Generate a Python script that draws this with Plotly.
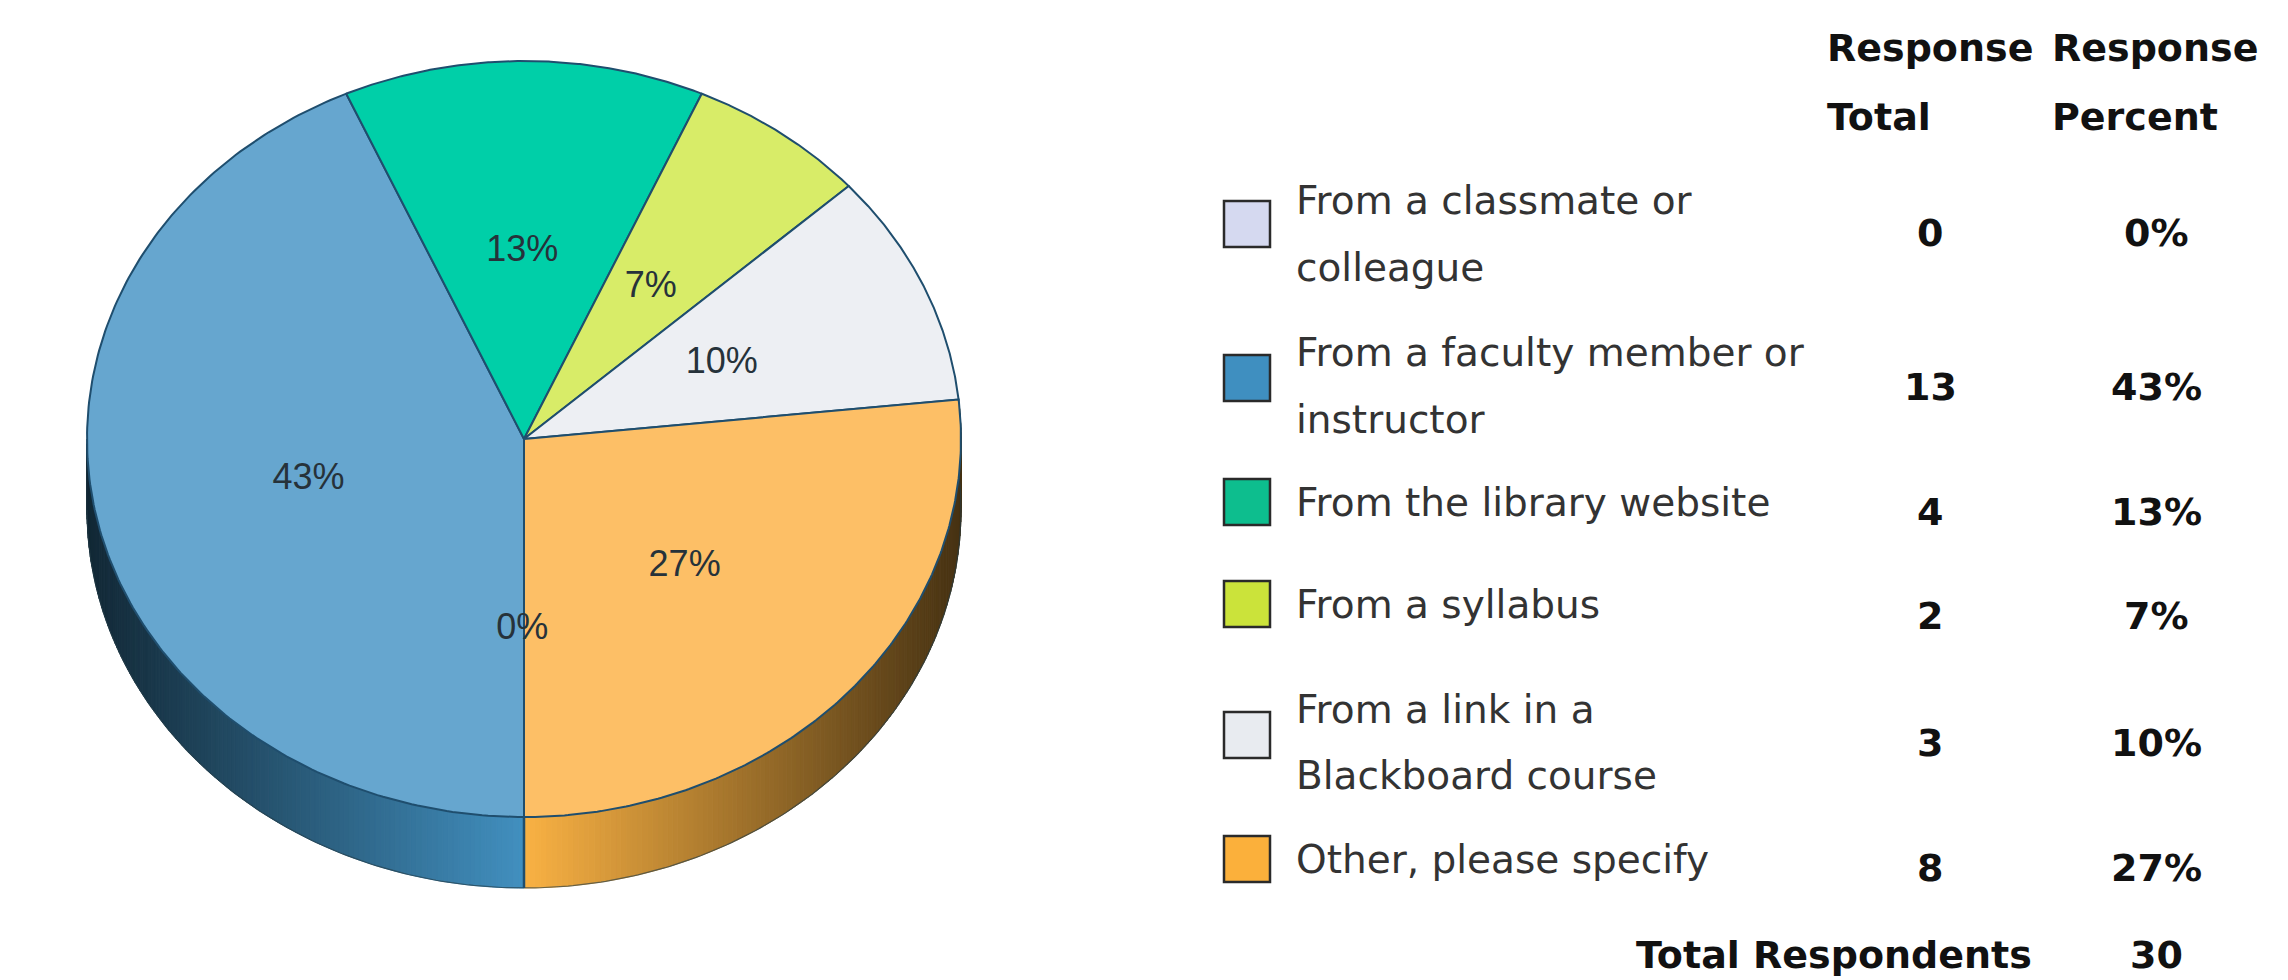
import numpy as np
import plotly.graph_objects as go

# ---------- data ----------
categories = ["From a classmate or colleague", "From a faculty member or instructor",
              "From the library website", "From a syllabus",
              "From a link in a Blackboard course", "Other, please specify"]
label_lines = [["From a classmate or", "colleague"], ["From a faculty member or", "instructor"],
               ["From the library website"], ["From a syllabus"],
               ["From a link in a", "Blackboard course"], ["Other, please specify"]]
totals = [0, 13, 4, 2, 3, 8]
respondents = 30
top_colors = ["#D9DDF2", "#66A6CF", "#00CFA8", "#D8EC68", "#EDEFF3", "#FDBF66"]
legend_colors = ["#D5D9F0", "#3F8FC0", "#0DBE8E", "#CBE33A", "#E8EBF0", "#FBB03B"]
side_colors = [(213, 217, 240), (66, 144, 192), (13, 190, 142), (203, 227, 58), (232, 235, 240), (250, 178, 68)]

# ---------- layout constants (page pixels) ----------
W, H = 2288, 980
CX, CY, RX, RY = 524, 439, 437, 378
DEPTH = 71 / RY
START = 180.0
EDGE = "#1F4E6E"
BODY = "DejaVu Sans"
PIE_FONT = "Liberation Sans"
swatch_tops = [201, 355, 479, 581, 712, 836]
line_ys = [[200, 268], [352, 419], [502], [604], [709, 775], [859]]
row_ys = [233, 387, 512, 616, 743, 868]

fig = go.Figure()
pct = [t / respondents for t in totals]
angles = START + np.concatenate([[0], np.cumsum(pct) * 360])


def ex(a):
    return np.sin(np.radians(a))


def ey(a):
    return np.cos(np.radians(a))


# side wall, gradient along x
for i in range(len(totals)):
    if pct[i] == 0:
        continue
    a0, a1 = angles[i], angles[i + 1]
    if a0 >= 360 or a1 > 360 and a0 > 270:
        a0, a1 = a0 - 360, a1 - 360
    lo, hi = max(a0, 84), min(a1, 270)
    if hi <= lo:
        continue
    edges = np.linspace(lo, hi, int((hi - lo) * 1.4) + 2)
    base = np.array(side_colors[i], float)
    for s, e in zip(edges[:-1], edges[1:]):
        f = min(abs(ex((s + e) / 2)), 1)
        c = base * (1 - 0.72 * f)
        col = "rgb(%d,%d,%d)" % tuple(c)
        fig.add_trace(go.Scatter(
            x=[ex(s), ex(e), ex(e), ex(s), ex(s)],
            y=[ey(s), ey(e), ey(e) - DEPTH, ey(s) - DEPTH, ey(s)],
            mode="lines", fill="toself", fillcolor=col,
            line=dict(color=col, width=1), hoverinfo="skip", showlegend=False))

# lower rim and seam
rim = np.linspace(84, 270, 300)
fig.add_trace(go.Scatter(x=ex(rim), y=ey(rim) - DEPTH, mode="lines",
                         line=dict(color="rgba(35,60,70,0.65)", width=1.2),
                         hoverinfo="skip", showlegend=False))
fig.add_trace(go.Scatter(x=[ex(START), ex(START)], y=[-1, -1 - DEPTH], mode="lines",
                         line=dict(color=EDGE, width=2.5), hoverinfo="skip", showlegend=False))

# top face
for i in range(len(totals)):
    if pct[i] == 0:
        continue
    t = np.linspace(angles[i], angles[i + 1], 200)
    fig.add_trace(go.Scatter(
        x=np.concatenate([[0], ex(t), [0]]), y=np.concatenate([[0], ey(t), [0]]),
        mode="lines", fill="toself", fillcolor=top_colors[i],
        line=dict(color=EDGE, width=2), hoverinfo="skip", name=categories[i], showlegend=False))

# slice labels
mids = (angles[:-1] + angles[1:]) / 2
fig.add_trace(go.Scatter(
    x=0.5 * ex(mids) - 0.004, y=0.5 * ey(mids) - 0.005, mode="text",
    text=["%d%%" % round(p * 100) for p in pct],
    textposition="middle center",
    textfont=dict(family=PIE_FONT, size=36, color="#26323a"),
    hoverinfo="skip", showlegend=False))


def ann(x, y, text, anchor="left", bold=False, size=39):
    fig.add_annotation(x=x / W, y=1 - y / H, xref="paper", yref="paper",
                       text="<b>%s</b>" % text if bold else text, showarrow=False,
                       xanchor=anchor, yanchor="middle", borderpad=0,
                       font=dict(family=BODY, size=size, color="#111111" if bold else "#333333"))


# table
for x, (a, b) in zip([1826, 2051], [("Response", "Total"), ("Response", "Percent")]):
    ann(x, 48, a, bold=True, size=38)
    ann(x, 117, b, bold=True, size=38)

for i in range(len(totals)):
    top = swatch_tops[i]
    fig.add_shape(type="rect", xref="paper", yref="paper",
                  x0=1224 / W, x1=1270 / W, y0=1 - top / H, y1=1 - (top + 46) / H,
                  fillcolor=legend_colors[i], line=dict(color="#2a2a2a", width=2.5))
    for txt, y in zip(label_lines[i], line_ys[i]):
        ann(1295, y, txt)
    ann(1930, row_ys[i], str(totals[i]), anchor="center", bold=True, size=38)
    ann(2156, row_ys[i], "%d%%" % round(pct[i] * 100), anchor="center", bold=True, size=38)

ann(2033, 955, "Total Respondents", anchor="right", bold=True, size=38)
ann(2156, 955, str(respondents), anchor="center", bold=True, size=38)

fig.update_layout(
    width=W, height=H, margin=dict(l=0, r=0, t=0, b=0), autosize=False,
    paper_bgcolor="white", plot_bgcolor="white", showlegend=False, hovermode=False,
    xaxis=dict(visible=False, range=[-CX / RX, (W - CX) / RX], fixedrange=True),
    yaxis=dict(visible=False, range=[-(H - CY) / RY, CY / RY], fixedrange=True),
)
fig.write_html("out.html", config={"displayModeBar": False},
               post_script="document.body.style.margin='0';document.body.style.overflow='hidden';")
